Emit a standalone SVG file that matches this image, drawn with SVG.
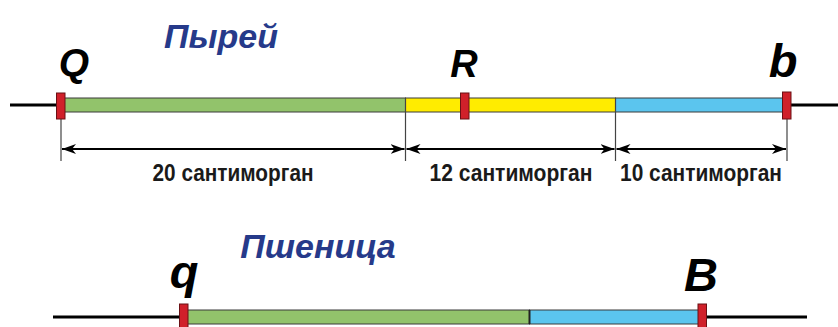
<svg xmlns="http://www.w3.org/2000/svg" width="838" height="327" viewBox="0 0 838 327">
<style>
.chr{stroke:#000;stroke-width:3}
.seg{stroke:#3a3a3a;stroke-width:1}
.g{fill:#92c36b}.y{fill:#ffec00}.bl{fill:#5bc5ee}
.mk{fill:#d0202a;stroke:#6a1015;stroke-width:1}
.tick{stroke:#444;stroke-width:1.2}
.dim{stroke:#000;stroke-width:2}
.title{font-family:"Liberation Sans",Arial,sans-serif;font-weight:bold;font-style:italic;font-size:34px;fill:#263a8a}
.gene{font-family:"Liberation Sans",Arial,sans-serif;font-weight:bold;font-style:italic;fill:#000}
.lab{font-family:"Liberation Sans",Arial,sans-serif;font-weight:bold;font-size:23px;fill:#1a1a1a}
</style>
<defs>
<marker id="ah" viewBox="0 0 14 10" refX="14" refY="5" markerWidth="14" markerHeight="10" markerUnits="userSpaceOnUse" orient="auto-start-reverse">
<path d="M0,0 L14,5 L0,10 L4,5 Z" fill="#000"/>
</marker>
</defs>

<g id="titles">
<text class="title" x="221" y="48" text-anchor="middle">Пырей</text>
<text class="title" x="318" y="258" text-anchor="middle">Пшеница</text>
</g>

<g id="chromosome-top">
<line class="chr" x1="10" y1="105" x2="838" y2="105"/>
<rect class="seg g" x="61" y="98" width="344.5" height="14"/>
<rect class="seg y" x="405.5" y="98" width="210" height="14"/>
<rect class="seg bl" x="615.5" y="98" width="171.5" height="14"/>
</g>

<g id="chromosome-bottom">
<line class="chr" x1="53" y1="317" x2="807" y2="317"/>
<rect class="seg g" x="184" y="310" width="345.5" height="14"/>
<rect class="seg bl" x="529.5" y="310" width="172" height="14"/>
<line x1="529.5" y1="310" x2="529.5" y2="324" stroke="#222" stroke-width="2"/>
</g>

<g id="connectors">
<line class="tick" x1="61" y1="119" x2="61" y2="161"/>
<line class="tick" x1="405.5" y1="98" x2="405.5" y2="161"/>
<line class="tick" x1="615.5" y1="98" x2="615.5" y2="161"/>
<line class="tick" x1="787" y1="119" x2="787" y2="161"/>
<line class="dim" x1="62" y1="149" x2="404.5" y2="149" marker-start="url(#ah)" marker-end="url(#ah)"/>
<line class="dim" x1="406.5" y1="149" x2="614.5" y2="149" marker-start="url(#ah)" marker-end="url(#ah)"/>
<line class="dim" x1="616.5" y1="149" x2="786" y2="149" marker-start="url(#ah)" marker-end="url(#ah)"/>
</g>

<g id="marker-Q">
<rect class="mk" x="56.5" y="93" width="8.5" height="26"/>
<text class="gene" x="74" y="76" font-size="39" text-anchor="middle">Q</text>
</g>
<g id="marker-R">
<rect class="mk" x="460.5" y="93" width="8.5" height="26"/>
<text class="gene" x="464" y="77" font-size="38" text-anchor="middle">R</text>
</g>
<g id="marker-b">
<rect class="mk" x="782.5" y="92" width="8.5" height="27"/>
<text class="gene" x="783" y="77" font-size="47" text-anchor="middle">b</text>
</g>
<g id="marker-q">
<rect class="mk" x="179.5" y="304" width="8.5" height="26"/>
<text class="gene" x="184" y="288" font-size="47" text-anchor="middle">q</text>
</g>
<g id="marker-B">
<rect class="mk" x="698" y="304" width="8.5" height="26"/>
<text class="gene" x="701" y="291" font-size="47" text-anchor="middle">B</text>
</g>

<g id="labels">
<text class="lab" x="233" y="181" text-anchor="middle" textLength="161" lengthAdjust="spacingAndGlyphs">20 сантиморган</text>
<text class="lab" x="511" y="181" text-anchor="middle" textLength="163" lengthAdjust="spacingAndGlyphs">12 сантиморган</text>
<text class="lab" x="701" y="181" text-anchor="middle" textLength="162" lengthAdjust="spacingAndGlyphs">10 сантиморган</text>
</g>
</svg>
